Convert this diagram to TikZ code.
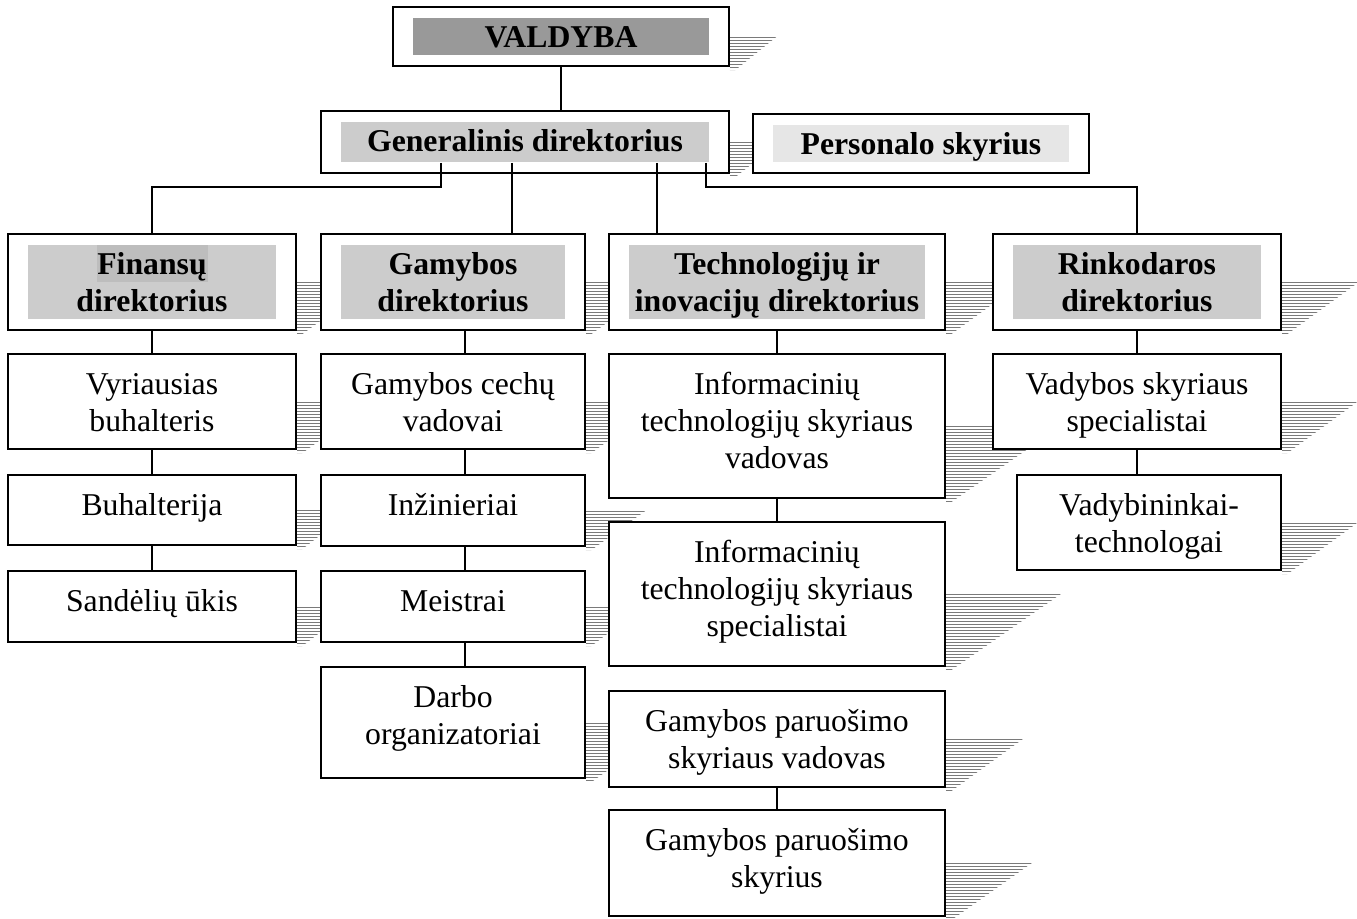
\documentclass[tikz,border=0pt]{standalone}
\usepackage{fontspec}
\setmainfont{Liberation Serif}
\usetikzlibrary{calc}
\pgfdeclarelayer{background}
\pgfsetlayers{background,main}

\definecolor{bandDark}{HTML}{999999}
\definecolor{bandMid}{HTML}{CCCCCC}
\definecolor{bandLight}{HTML}{E6E6E6}
\definecolor{bandWord}{HTML}{BDBDBD}
\definecolor{hatchgray}{HTML}{7A7A7A}

\tikzset{
  unitbox/.style={draw=black, line width=1.3pt, fill=white,
    inner sep=0pt, font=\fontsize{23.8}{27.75}\selectfont},
  headbox/.style={unitbox, font=\fontsize{23.8}{27.75}\selectfont\bfseries,
    path picture={\fill[#1]
      ([xshift=15pt,yshift=-8.25pt]path picture bounding box.north west) rectangle
      ([xshift=-15pt,yshift=8.25pt]path picture bounding box.south east);}},
  finbox/.style={unitbox, font=\fontsize{23.8}{27.75}\selectfont\bfseries,
    path picture={\fill[bandMid]
      ([xshift=15pt,yshift=-8.25pt]path picture bounding box.north west) rectangle
      ([xshift=-15pt,yshift=8.25pt]path picture bounding box.south east);
      \fill[bandWord]
      ([xshift=66.75pt,yshift=-8.25pt]path picture bounding box.north west) rectangle
      ([xshift=150pt,yshift=-36pt]path picture bounding box.north west);}},
  conn/.style={line width=1.3pt, black},
  hatchline/.style={line width=0.55pt, hatchgray},
}

% box from corner (x1,y1) to (x2,y2), in pixel units; text hangs from the top
\newcommand\placebox[7]{%
  \node[#1, minimum width={(#5-#3)*0.75pt}, minimum height={(#6-#4)*0.75pt}]
    (#2) at ({(#3+#5)/2},{(#4+#6)/2})
    {\parbox[c][\dimexpr 3pt*\numexpr #6-#4\relax/4\relax][t]{\dimexpr 3pt*\numexpr #5-#3\relax/4\relax}%
      {\centering\rule{0pt}{30pt}#7\par}};}

% hatched wedge shadow on the right side of a box
\newcommand\castshadow[2]{%
  \begin{pgfonlayer}{background}
  \begin{scope}
    \clip (#1.east) -- ++(#2,0) -- ([xshift=4pt,yshift=-2.5pt]#1.south east)
      -- ([yshift=-2.5pt]#1.south east) -- cycle;
    \foreach \k in {0,...,30} {
      \draw[hatchline] ([yshift={-0.6pt-\k*2.25pt}]#1.east) -- ++(#2+2,0);}
  \end{scope}
  \end{pgfonlayer}}

\begin{document}
\begin{tikzpicture}[x=0.75pt, y=-0.75pt]
\useasboundingbox (0,0) rectangle (1357,918);

% top management
\placebox{headbox=bandDark}{v}{393}{7}{729}{66}{VALDYBA}
\placebox{headbox=bandMid}{g}{321}{111}{729}{173}{Generalinis direktorius}
\placebox{headbox=bandLight}{p}{753}{114}{1089}{173}{Personalo skyrius}

% directors
\placebox{finbox}{fd}{8}{234}{296}{330}{Finansų\\direktorius}
\placebox{headbox=bandMid}{gd}{321}{234}{585}{330}{Gamybos\\direktorius}
\placebox{headbox=bandMid}{td}{609}{234}{945}{330}{Technologijų ir\\inovacijų direktorius}
\placebox{headbox=bandMid}{rd}{993}{234}{1281}{330}{Rinkodaros\\direktorius}

% finance
\placebox{unitbox}{f1}{8}{354}{296}{449}{Vyriausias\\buhalteris}
\placebox{unitbox}{f2}{8}{475}{296}{545}{Buhalterija}
\placebox{unitbox}{f3}{8}{571}{296}{642}{Sandėlių ūkis}

% production
\placebox{unitbox}{m1}{321}{354}{585}{449}{Gamybos cechų\\vadovai}
\placebox{unitbox}{m2}{321}{475}{585}{546}{Inžinieriai}
\placebox{unitbox}{m3}{321}{571}{585}{642}{Meistrai}
\placebox{unitbox}{m4}{321}{667}{585}{778}{Darbo\\organizatoriai}

% technology and innovation
\placebox{unitbox}{t1}{609}{354}{945}{498}{Informacinių\\technologijų skyriaus\\vadovas}
\placebox{unitbox}{t2}{609}{522}{945}{666}{Informacinių\\technologijų skyriaus\\specialistai}
\placebox{unitbox}{t3}{609}{691}{945}{787}{Gamybos paruošimo\\skyriaus vadovas}
\placebox{unitbox}{t4}{609}{810}{945}{916}{Gamybos paruošimo\\skyrius}

% marketing
\placebox{unitbox}{r1}{993}{354}{1281}{449}{Vadybos skyriaus\\specialistai}
\placebox{unitbox}{r2}{1017}{475}{1281}{570}{Vadybininkai-\\technologai}

% shadows
\castshadow{v}{47}
\castshadow{g}{50}
\castshadow{fd}{77}
\castshadow{gd}{77}
\castshadow{td}{77}
\castshadow{rd}{77}
\castshadow{f1}{76}
\castshadow{f2}{56}
\castshadow{f3}{57}
\castshadow{m1}{76}
\castshadow{m2}{60}
\castshadow{m3}{57}
\castshadow{m4}{89}
\castshadow{t1}{115}
\castshadow{t2}{115}
\castshadow{t3}{77}
\castshadow{t4}{86}
\castshadow{r1}{76}
\castshadow{r2}{76}

% connectors
\draw[conn] (v.south) -- (v.south |- g.north);
\coordinate (gA) at ([xshift=-63pt,yshift=8.25pt]g.south);
\coordinate (gB) at ([xshift=-9.75pt,yshift=8.25pt]g.south);
\coordinate (gC) at ([xshift=99pt,yshift=8.25pt]g.south);
\coordinate (gD) at ([xshift=135.75pt,yshift=8.25pt]g.south);
\draw[conn] (gA) -- ++(0,24) -| (fd.north);
\draw[conn] (gB) -- (gB |- gd.north);
\draw[conn] (gC) -- (gC |- td.north);
\draw[conn] (gD) -- ++(0,24) -| (rd.north);

\draw[conn] (fd.south) -- (f1.north);
\draw[conn] (f1.south) -- (f2.north);
\draw[conn] (f2.south) -- (f3.north);

\draw[conn] ([xshift=9pt]gd.south) -- ([xshift=9pt]m1.north);
\draw[conn] ([xshift=9pt]m1.south) -- ([xshift=9pt]m2.north);
\draw[conn] ([xshift=9pt]m2.south) -- ([xshift=9pt]m3.north);
\draw[conn] ([xshift=9pt]m3.south) -- ([xshift=9pt]m4.north);

\draw[conn] (td.south) -- (t1.north);
\draw[conn] (t1.south) -- (t2.north);
\draw[conn] (t3.south) -- (t4.north);

\draw[conn] (rd.south) -- (r1.north);
\draw[conn] (r1.south) -- (r1.south |- r2.north);
\end{tikzpicture}
\end{document}
